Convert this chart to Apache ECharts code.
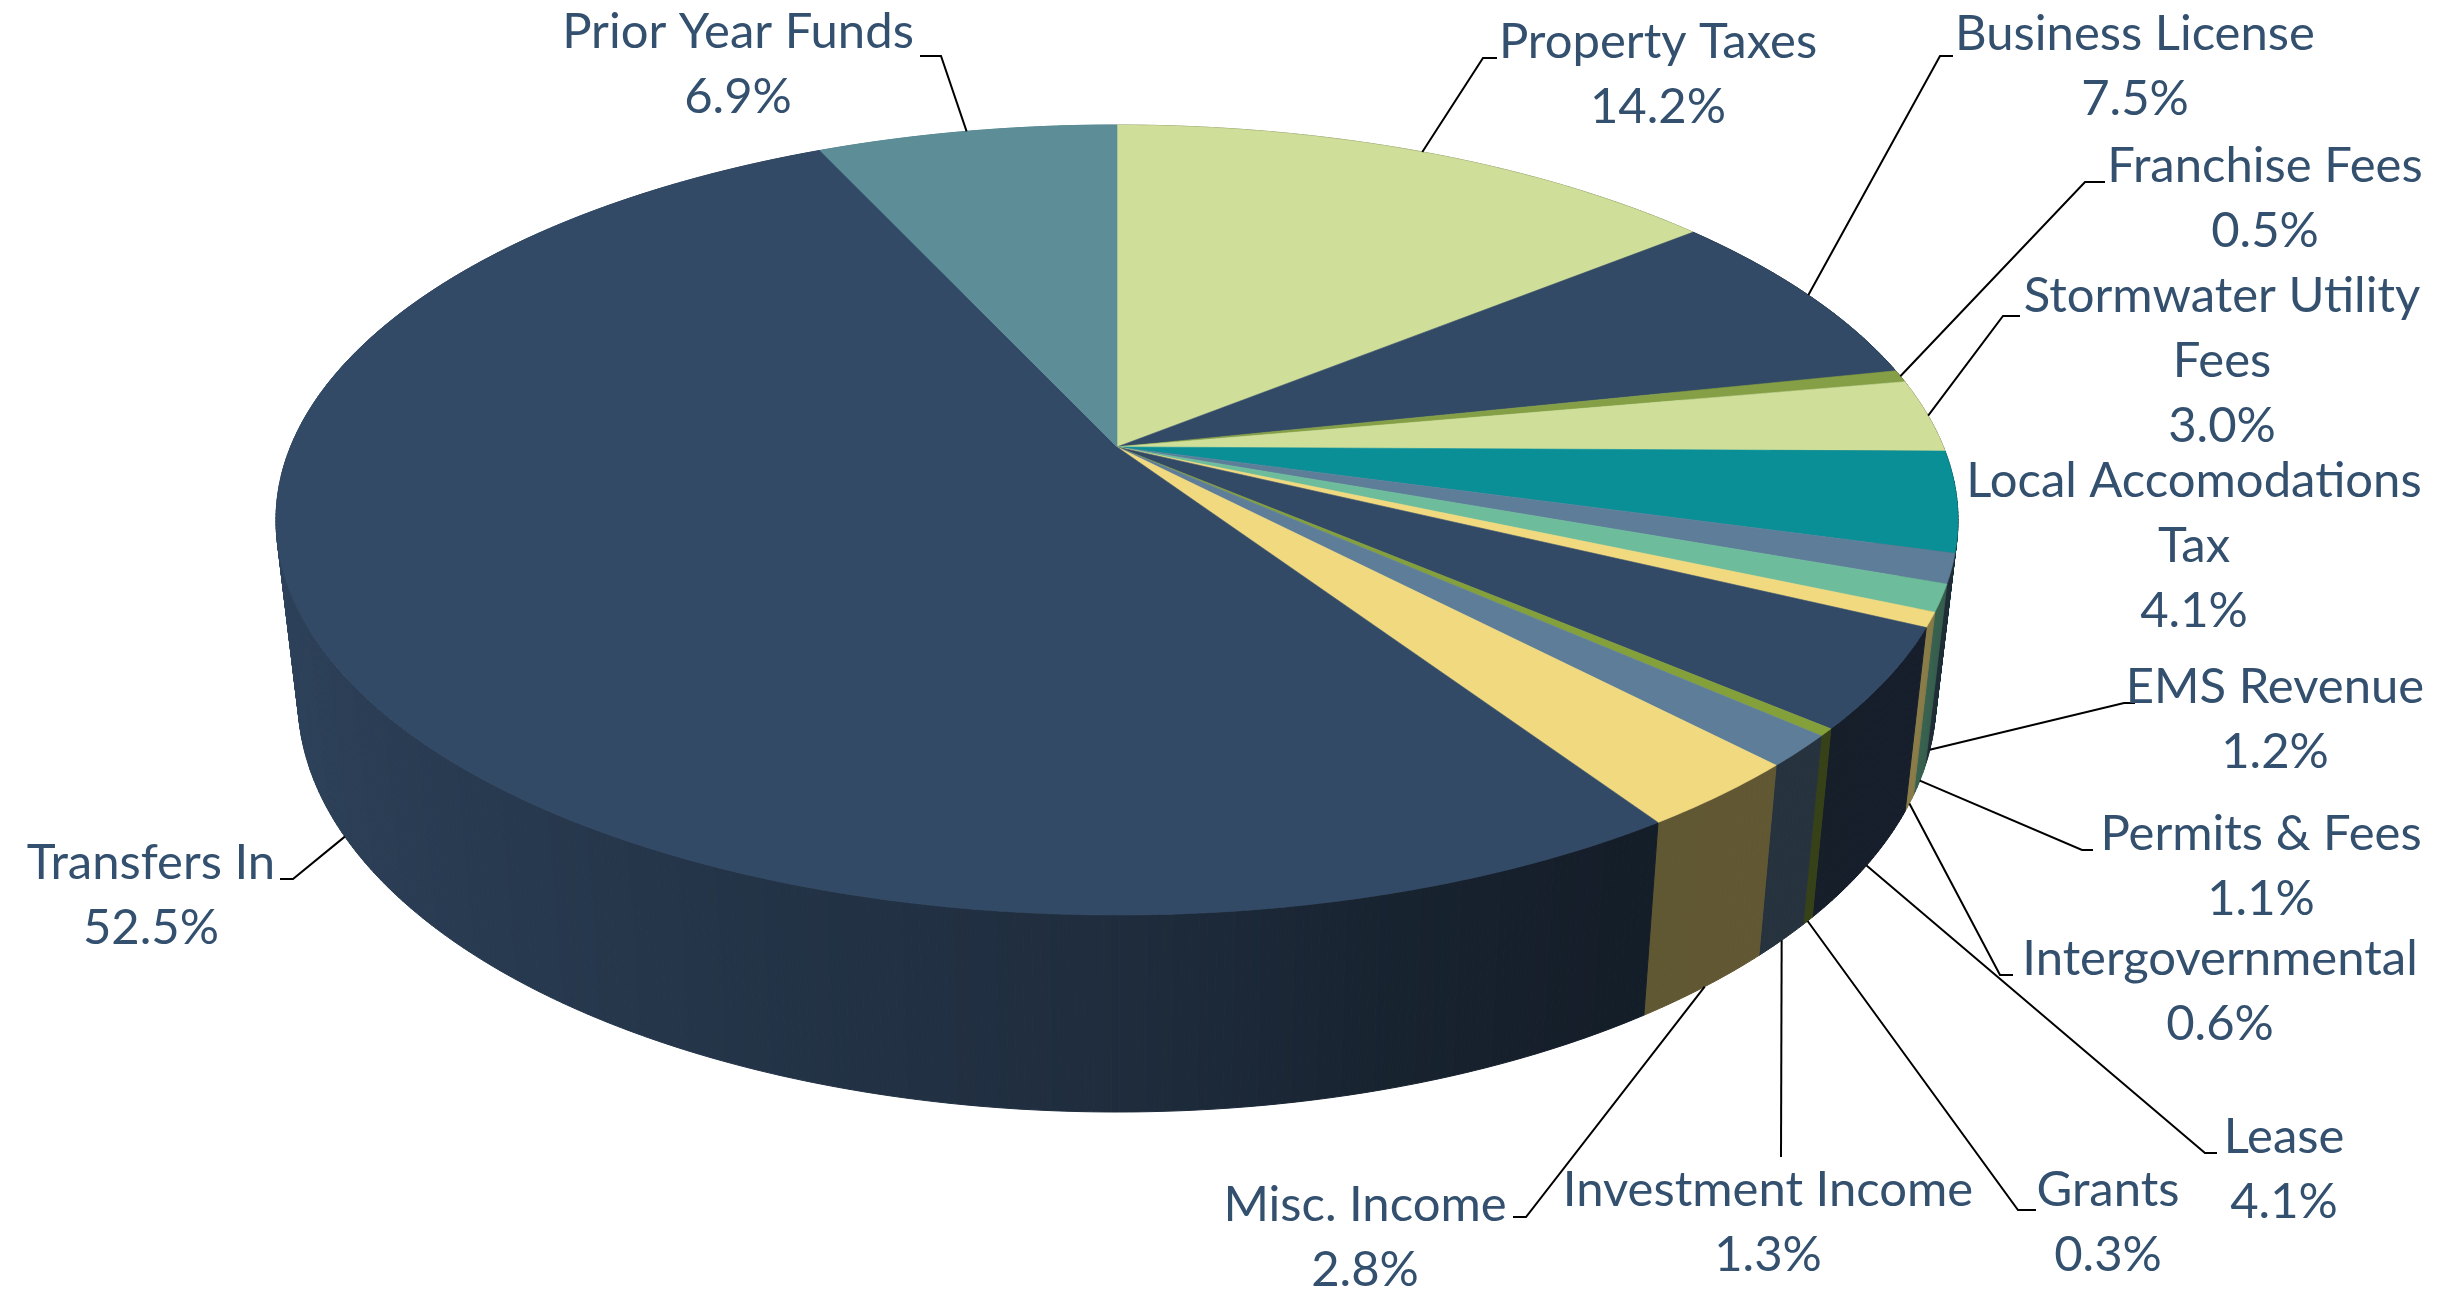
<!DOCTYPE html>
<html>
<head>
<meta charset="utf-8">
<style>html,body{margin:0;padding:0;background:#fff}#c{width:2440px;height:1291px}</style>
<script src="https://cdn.jsdelivr.net/npm/echarts@6/dist/echarts.min.js"></script>
</head>
<body>
<div id="c"></div>
<script>
const categories = ['Property Taxes','Business License','Franchise Fees','Stormwater Utility\nFees','Local Accomodations\nTax','EMS Revenue','Permits & Fees','Intergovernmental','Lease','Grants','Investment Income','Misc. Income','Transfers In','Prior Year Funds'];
const values = [14.2,7.5,0.5,3.0,4.1,1.2,1.1,0.6,4.1,0.3,1.3,2.8,52.5,6.9];
const colors = ['#CFDF9A','#334A66','#849F45','#CFDF9A','#0A8F97','#5D7D99','#6DBC9B','#F0D97E','#334A66','#84A03A','#5D7D99','#F0D97E','#334A66','#5D8E98'];

// Wall shading: [angle in degrees clockwise from 12 o'clock, brightness]
const shadeStops = [[0,0.6],[90,0.5],[104,0.36],[109.5,0.36],[110,0.5],[113.5,0.52],[114,0.57],[115.7,0.57],[116,0.41],[150,0.40],[165,0.48],[180,0.6],[215,0.76],[250,0.88],[270,0.93],[360,0.93]];

// Perspective view of the top and bottom circles of the pie
const topDisc = {cx:1117, cy:520, rx:841, ry:395, d:0.185};
const bottomDisc = {cx:1117, cy:699, rx:819, ry:413, d:0.185};

// Label layout: centre of text block, leader elbow and end, leader attaches to top or bottom rim
const labelLayout = [
  {x:1658,y:75,  elbow:[1483,58],  end:[1497,58],  rim:'top'},
  {x:2135,y:67,  elbow:[1940,56],  end:[1953,56],  rim:'top'},
  {x:2265,y:199, elbow:[2085,182], end:[2105,182], rim:'top'},
  {x:2222,y:361, elbow:[2003,316], end:[2020,316], rim:'top'},
  {x:2194,y:546},
  {x:2275,y:720, elbow:[2124,703], end:[2135,703], rim:'bottom'},
  {x:2261,y:867, elbow:[2082,850], end:[2093,850], rim:'bottom'},
  {x:2220,y:992, elbow:[2000,975], end:[2013,975], rim:'bottom'},
  {x:2284,y:1170,elbow:[2205,1153],end:[2217,1153],rim:'bottom'},
  {x:2108,y:1223,elbow:[2018,1210],end:[2036,1210],rim:'bottom'},
  {x:1768,y:1223,elbow:[1781,1157],end:[1781,1157],rim:'bottom'},
  {x:1365,y:1238,elbow:[1526,1217],end:[1513,1217],rim:'bottom'},
  {x:151, y:896, elbow:[293,879],  end:[280,879],  rim:'bottom'},
  {x:738, y:65,  elbow:[941,56],   end:[920,56],   rim:'top'}
];
const FONT = 'Lato, "Open Sans", sans-serif';
const TEXT_COLOR = '#34506F';

const total = values.reduce((a,b)=>a+b,0);
const cumulative = [];
values.reduce((acc,v,i)=>{cumulative[i]=acc;return acc+v;},0);
const toAngle = v => v/total*360;

function project(disc, deg){
  const a = deg*Math.PI/180, s = Math.sin(a), c = Math.cos(a), d = disc.d;
  const w = 1 + d*c;
  return [disc.cx + disc.rx*Math.sqrt(1-d*d)*s/w, disc.cy - disc.ry*(c+d)/w];
}
function shade(hex, deg){
  deg = ((deg%360)+360)%360;
  let f = shadeStops[shadeStops.length-1][1];
  for(let i=1;i<shadeStops.length;i++){
    if(deg<=shadeStops[i][0]){
      const p=shadeStops[i-1], q=shadeStops[i];
      f = p[1]+(q[1]-p[1])*(deg-p[0])/(q[0]-p[0]);
      break;
    }
  }
  const n=parseInt(hex.slice(1),16);
  return 'rgb('+[(n>>16)&255,(n>>8)&255,n&255].map(x=>Math.round(x*f)).join(',')+')';
}
// apex of the top face = where the circle's centre lands under perspective
function apex(disc){ return [disc.cx, disc.cy - disc.ry*disc.d]; }

function renderItem(params, api){
  const i = params.dataIndex;
  const start = toAngle(cumulative[i]);
  const sweep = toAngle(api.value(1));
  const end = start + sweep;
  const steps = Math.max(2, Math.ceil(sweep*2));
  const children = [];
  const rim = [apex(topDisc)];
  for(let k=0;k<steps;k++){
    const a0 = start + sweep*k/steps, a1 = start + sweep*(k+1)/steps, mid=(a0+a1)/2;
    const col = shade(colors[i], mid);
    children.push({
      type:'polygon', silent:true,
      z2: Math.round(1000 - 500*Math.cos(mid*Math.PI/180)),
      shape:{points:[project(topDisc,a0),project(topDisc,a1),project(bottomDisc,a1),project(bottomDisc,a0)]},
      style:{fill:col,stroke:col,lineWidth:1}
    });
  }
  const fine = Math.max(2, Math.ceil(sweep*2));
  for(let k=0;k<=fine;k++) rim.push(project(topDisc,start+sweep*k/fine));
  children.push({type:'polygon',silent:true,z2:3000,shape:{points:rim},style:{fill:colors[i],stroke:colors[i],lineWidth:0.6}});

  const lay = labelLayout[i];
  if(lay.rim){
    const anchor = project(lay.rim==='top'?topDisc:bottomDisc,(start+end)/2);
    children.push({type:'polyline',silent:true,z2:3500,shape:{points:[anchor,lay.elbow,lay.end]},style:{fill:null,stroke:'#000',lineWidth:2}});
  }
  children.push({
    type:'text',silent:true,z2:4000,x:lay.x,y:lay.y,
    style:{text:api.value(2)+'\n'+api.value(1).toFixed(1)+'%',font:'49px '+FONT,fill:TEXT_COLOR,align:'center',verticalAlign:'middle',lineHeight:65}
  });
  return {type:'group',children};
}

const chart = echarts.init(document.getElementById('c'),null,{renderer:'canvas',width:2440,height:1291});
chart.setOption({
  animation:false,
  backgroundColor:'#fff',
  series:[{
    type:'custom',coordinateSystem:'none',renderItem,
    encode:{value:1},
    data:categories.map((n,i)=>[i,values[i],n])
  }]
});
</script>
</body>
</html>
